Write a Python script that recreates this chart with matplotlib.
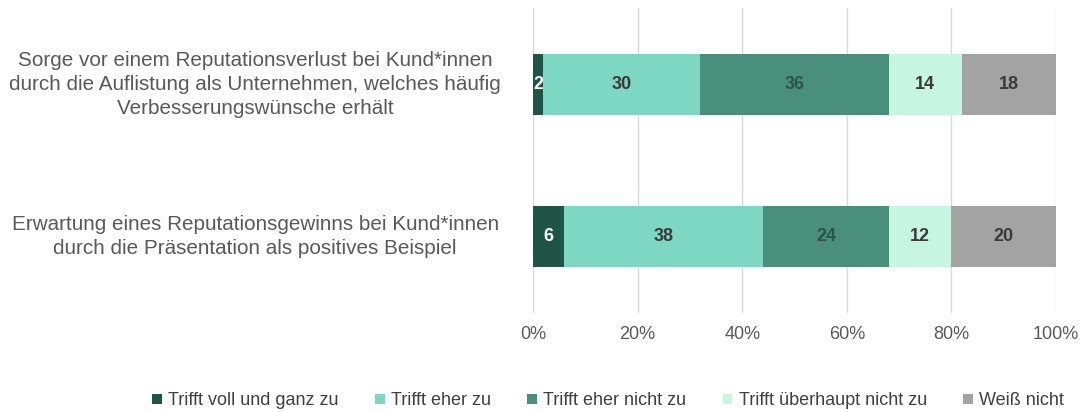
import numpy as np
import matplotlib.pyplot as plt
from matplotlib.ticker import PercentFormatter
import matplotlib.transforms as mtransforms

plt.rcParams['font.family'] = ['Liberation Sans', 'DejaVu Sans']

categories = [
    "Sorge vor einem Reputationsverlust bei Kund*innen\n"
    "durch die Auflistung als Unternehmen, welches häufig\n"
    "Verbesserungswünsche erhält",
    "Erwartung eines Reputationsgewinns bei Kund*innen\n"
    "durch die Präsentation als positives Beispiel",
]
series_names = ["Trifft voll und ganz zu", "Trifft eher zu", "Trifft eher nicht zu",
                "Trifft überhaupt nicht zu", "Weiß nicht"]
values = {
    "Trifft voll und ganz zu": [2, 6],
    "Trifft eher zu": [30, 38],
    "Trifft eher nicht zu": [36, 24],
    "Trifft überhaupt nicht zu": [14, 12],
    "Weiß nicht": [18, 20],
}
colors = ["#1f5446", "#7dd7c2", "#4a8f7b", "#c6f6e2", "#a3a3a3"]
label_colors = ["white", "#3a3a3a", "#2c5547", "#3a3a3a", "#3a3a3a"]

fig = plt.figure(figsize=(10.81, 4.12), dpi=100)
ax = fig.add_axes([0.493, 0.240, 0.484, 0.741])

y = np.arange(len(categories))
left = np.zeros(len(categories))
for name, col, lcol in zip(series_names, colors, label_colors):
    vals = np.array(values[name], dtype=float)
    bars = ax.barh(y, vals, left=left, height=0.4, color=col, label=name, zorder=3)
    ax.bar_label(bars, labels=[str(int(v)) for v in vals], label_type='center',
                 color=lcol, fontsize=13, fontweight='bold')
    left += vals

ax.set_xlim(0, 100)
ax.set_ylim(1.5, -0.5)
ax.set_xticks(np.arange(0, 101, 20))
ax.xaxis.set_major_formatter(PercentFormatter(decimals=0))
ax.tick_params(axis='x', length=0, labelsize=13, labelcolor='#595959', pad=9)
ax.set_yticks([])
ax.grid(axis='x', color='#d9d9d9', linewidth=1, zorder=0)
for s in ax.spines.values():
    s.set_visible(False)

# category labels, centred to the left of the bars
trans = mtransforms.blended_transform_factory(fig.transFigure, ax.transData)
for yi, cat in zip(y, categories):
    ax.text(0.236, yi, cat, transform=trans, ha='center', va='center',
            multialignment='center', fontsize=14.9, color='#595959', linespacing=1.33)

fig.legend(loc='center', bbox_to_anchor=(0.5625, 0.027), ncol=5, frameon=False,
           fontsize=13, handlelength=0.55, handleheight=0.55, handletextpad=0.35,
           columnspacing=2.0, labelcolor='#404040')

fig.savefig("out.png", dpi=100)
